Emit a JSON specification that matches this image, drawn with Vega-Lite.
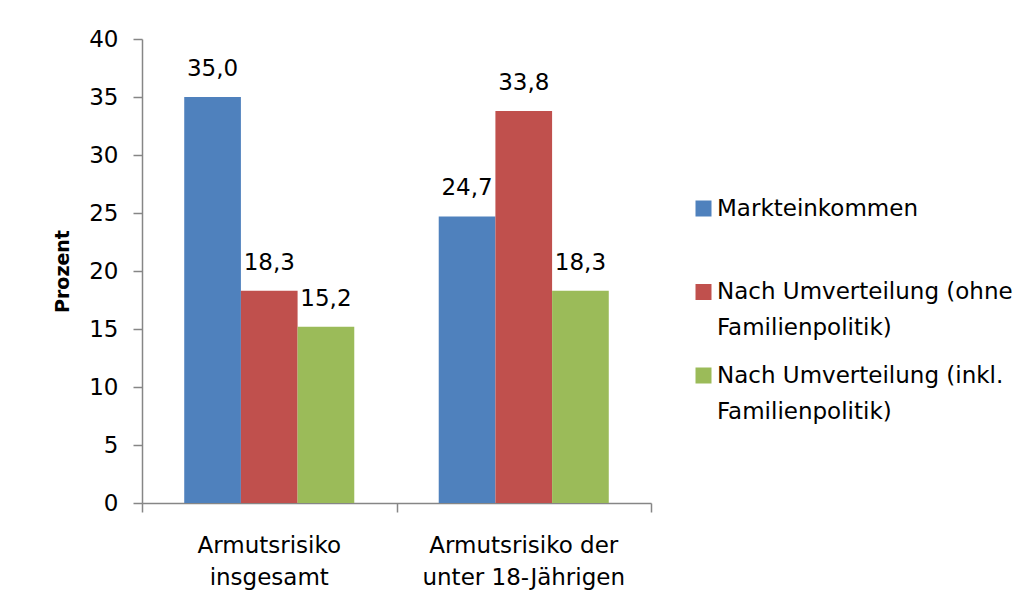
{
  "$schema": "https://vega.github.io/schema/vega-lite/v6.json",
  "autosize": {"type": "none"},
  "width": 509,
  "height": 464,
  "padding": {"left": 142, "top": 39, "right": 376, "bottom": 87},
  "background": "white",
  "config": {
    "view": {"stroke": null},
    "font": "DejaVu Sans",
    "style": {"guide-label": {"lineHeight": 36}},
    "locale": {"number": {"decimal": ",", "thousands": ".", "grouping": [3], "currency": ["", " €"]}}
  },
  "data": {
    "values": [
      {"Gruppe": "Armutsrisiko insgesamt", "Reihe": "Markteinkommen", "Prozent": 35.0},
      {"Gruppe": "Armutsrisiko insgesamt", "Reihe": "Nach Umverteilung (ohne Familienpolitik)", "Prozent": 18.3},
      {"Gruppe": "Armutsrisiko insgesamt", "Reihe": "Nach Umverteilung (inkl. Familienpolitik)", "Prozent": 15.2},
      {"Gruppe": "Armutsrisiko der unter 18-Jährigen", "Reihe": "Markteinkommen", "Prozent": 24.7},
      {"Gruppe": "Armutsrisiko der unter 18-Jährigen", "Reihe": "Nach Umverteilung (ohne Familienpolitik)", "Prozent": 33.8},
      {"Gruppe": "Armutsrisiko der unter 18-Jährigen", "Reihe": "Nach Umverteilung (inkl. Familienpolitik)", "Prozent": 18.3}
    ]
  },
  "encoding": {
    "xOffset": {
      "field": "Reihe", "type": "nominal",
      "sort": ["Markteinkommen", "Nach Umverteilung (ohne Familienpolitik)", "Nach Umverteilung (inkl. Familienpolitik)"],
      "scale": {"paddingInner": 0, "paddingOuter": 0.745}
    },
    "y": {
      "field": "Prozent", "type": "quantitative",
      "scale": {"domain": [0, 40], "nice": false},
      "axis": {
        "title": "Prozent", "titleFontSize": 19, "titleFontWeight": "bold", "titleColor": "black", "titlePadding": 16,
        "values": [0, 5, 10, 15, 20, 25, 30, 35, 40], "format": "d",
        "grid": false, "labelFontSize": 23, "labelColor": "black", "labelPadding": 15,
        "tickSize": 9, "tickColor": "#868686", "domainColor": "#868686", "domainWidth": 1.5, "tickWidth": 1.5
      }
    }
  },
  "layer": [
    {
      "mark": {"type": "bar"},
      "encoding": {
        "x": {
          "field": "Gruppe", "type": "nominal",
          "sort": ["Armutsrisiko insgesamt", "Armutsrisiko der unter 18-Jährigen"],
          "scale": {"paddingInner": 0, "paddingOuter": 0},
          "axis": {
            "title": null, "labels": false, "orient": "bottom",
            "tickBand": "extent", "tickSize": 9, "tickColor": "#868686", "domainColor": "#868686",
            "domainWidth": 1.5, "tickWidth": 1.5
          }
        },
        "color": {
          "field": "Reihe", "type": "nominal",
          "scale": {
            "domain": ["Markteinkommen", "Nach Umverteilung (ohne Familienpolitik)", "Nach Umverteilung (inkl. Familienpolitik)"],
            "range": ["#4F81BD", "#C0504D", "#9BBB59"]
          },
          "legend": {
            "title": null, "orient": "none", "legendX": 550, "legendY": 158,
            "symbolType": "square", "symbolSize": 256, "symbolStrokeWidth": 0,
            "labelFontSize": 23, "labelColor": "black", "labelLimit": 400,
            "labelOffset": 2, "rowPadding": 23.5, "labelBaseline": "middle",
            "labelExpr": "datum.label == 'Markteinkommen' ? ['Markteinkommen', ' '] : datum.label == 'Nach Umverteilung (ohne Familienpolitik)' ? ['Nach Umverteilung (ohne', 'Familienpolitik)'] : ['Nach Umverteilung (inkl.', 'Familienpolitik)']"
          }
        }
      }
    },
    {
      "mark": {"type": "text", "baseline": "alphabetic", "dy": -21, "fontSize": 23, "color": "black"},
      "encoding": {
        "x": {
          "field": "Gruppe", "type": "nominal",
          "sort": ["Armutsrisiko insgesamt", "Armutsrisiko der unter 18-Jährigen"],
          "axis": {
            "title": null, "labelAngle": 0, "ticks": false, "domain": false, "tickSize": 0, "orient": "bottom",
            "labelExpr": "datum.label == 'Armutsrisiko insgesamt' ? ['Armutsrisiko', 'insgesamt'] : ['Armutsrisiko der', 'unter 18-Jährigen']",
            "labelFontSize": 23, "labelLineHeight": 32, "labelColor": "black", "labelPadding": 31,
            "labelBaseline": "top", "labelLimit": 300
          }
        },
        "text": {"field": "Prozent", "type": "quantitative", "format": ".1f"}
      }
    }
  ],
  "resolve": {"axis": {"x": "independent"}}
}
